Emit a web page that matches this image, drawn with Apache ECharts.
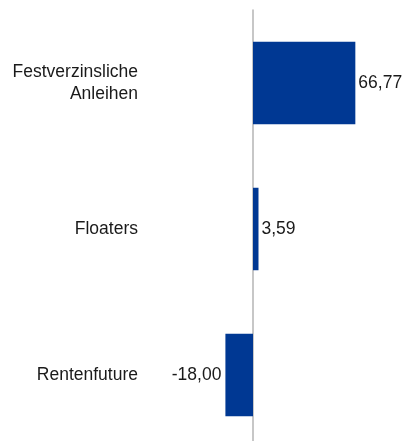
<!DOCTYPE html>
<html>
<head>
<meta charset="utf-8">
<script src="https://cdn.jsdelivr.net/npm/echarts@6/dist/echarts.min.js"></script>
<style>html,body{margin:0;padding:0;background:#fff;}#c{width:406px;height:441px;}</style>
</head>
<body>
<div id="c"></div>
<script>
const categories = ['Festverzinsliche\nAnleihen', 'Floaters', 'Rentenfuture'];
const values = [66.77, 3.59, -18.00];

const fmt = v => v.toFixed(2).replace('.', ',');
const chart = echarts.init(document.getElementById('c'), null, {renderer: 'canvas'});
chart.setOption({
  animation: false,
  grid: {left: 148, width: 248, top: 10, height: 438, containLabel: false, outerBoundsMode: 'none'},
  xAxis: {
    type: 'value', min: -68.5, max: 93.3,
    axisLine: {show: false}, axisTick: {show: false}, axisLabel: {show: false}, splitLine: {show: false}
  },
  yAxis: {
    type: 'category', data: categories, inverse: true,
    axisLine: {show: true, onZero: true, lineStyle: {color: '#b4b4b4', width: 1.5}},
    axisTick: {show: false},
    axisLabel: {
      margin: 10, color: '#1a1a1a', fontSize: 17.5, fontFamily: 'Liberation Sans',
      lineHeight: 22, align: 'right', padding: [5, 0, 0, 0]
    }
  },
  series: [{
    type: 'bar',
    barCategoryGap: '43.5%',
    data: values.map(v => ({
      value: v,
      label: {show: true, position: v < 0 ? 'left' : 'right', distance: v < 0 ? 4 : 3,
        padding: [5, 0, 0, 0],
        formatter: p => fmt(p.value), color: '#1a1a1a', fontSize: 17.5, fontFamily: 'Liberation Sans'}
    })),
    itemStyle: {color: '#003893'}
  }]
});
</script>
</body>
</html>
